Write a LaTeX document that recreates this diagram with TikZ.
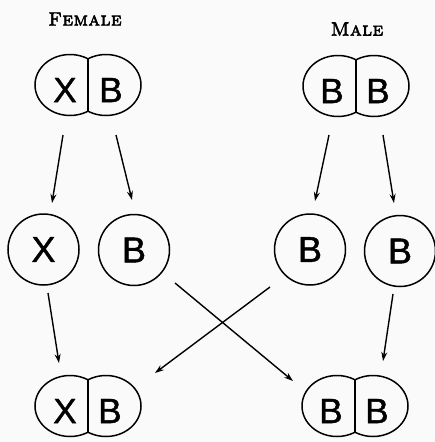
\documentclass[tikz,border=0pt]{standalone}
\usepackage{fontspec}
\newfontfamily\cellfont[FakeBold=1.2]{Liberation Sans}
\newfontfamily\titlefont[FakeBold=3, LetterSpace=3]{lmromancaps10-regular.otf}
\usetikzlibrary{arrows.meta,calc}
\tikzset{
  outline/.style={draw=black, line width=1.5pt},
  single/.style={outline, circle, minimum size=71pt, inner sep=0pt, font=\cellfont\fontsize{36}{36}\selectfont},
  letter/.style={inner sep=0pt, font=\cellfont\fontsize{35}{35}\selectfont},
  title/.style={inner sep=0pt, font=\titlefont\fontsize{19}{19}\selectfont},
  arr/.style={draw=black, line width=1.4pt, -{Stealth[length=9pt,width=6pt]}},
  dcell/.pic={
    \begin{scope}
      \clip (-60,-40) rectangle (0,40);
      \draw[outline] (-18,0) ellipse [x radius=35, y radius=30.5];
    \end{scope}
    \begin{scope}
      \clip (0,-40) rectangle (60,40);
      \draw[outline] (18,0) ellipse [x radius=35, y radius=30.5];
    \end{scope}
    \draw[outline, line width=1.1pt] (0,-26) -- (0,26);
  }
}
\begin{document}
\begin{tikzpicture}[x=1pt, y=-1pt]
  \useasboundingbox[fill=black!2] (0,0) rectangle (435,442);

  % titles
  \node[title] (fem) at (85,19) {Female};
  \node[title] (male) at (357,29) {Male};

  % parent cells
  \pic at (88,85) {dcell};
  \node[letter] (tlL) at (65,90) {X};
  \node[letter] (tlR) at (111,90) {B};
  \coordinate (TL) at (88,85);

  \pic at (356,86) {dcell};
  \node[letter] (trL) at (332,91) {B};
  \node[letter] (trR) at (378,91) {B};
  \coordinate (TR) at (356,86);

  % gametes
  \node[single] (mX) at (43.5,249.5) {X};
  \node[single] (mB) at (134,250) {B};
  \node[single] (mB1) at (310,249.5) {B};
  \node[single] (mB2) at (400,251) {B};

  % offspring
  \pic at (88,406) {dcell};
  \node[letter] (blL) at (65,411) {X};
  \node[letter] (blR) at (110,411) {B};
  \coordinate (BL) at (88,406);

  \pic at (355,406) {dcell};
  \node[letter] (brL) at (331,411) {B};
  \node[letter] (brR) at (377,411) {B};
  \coordinate (BR) at (355,406);

  % arrow end points
  \path (TL) ++(-25,50) coordinate (a1s);
  \path (TL) ++(28,50) coordinate (a2s);
  \path (TR) ++(-27,49) coordinate (a3s);
  \path (TR) ++(27,49) coordinate (a4s);
  \path (mX) ++(8.5,-46.5) coordinate (a1e);
  \path (mB) ++(-2,-50) coordinate (a2e);
  \path (mB1) ++(5,-48.5) coordinate (a3e);
  \path (mB2) ++(-6,-48) coordinate (a4e);

  \path (mX) ++(4.5,43.5) coordinate (a5s);
  \path (mB2) ++(-7,43) coordinate (a6s);
  \path (mB) ++(41,33) coordinate (a7s);
  \path (mB1) ++(-40,37.5) coordinate (a8s);
  \path (BL) ++(-29,-43) coordinate (a5e);
  \path (BR) ++(28,-45) coordinate (a6e);
  \path (BR) ++(-62,-25) coordinate (a7e);
  \path (BL) ++(67,-33) coordinate (a8e);

  \draw[arr] (a1s) -- (a1e);
  \draw[arr] (a2s) -- (a2e);
  \draw[arr] (a3s) -- (a3e);
  \draw[arr] (a4s) -- (a4e);
  \draw[arr] (a5s) -- (a5e);
  \draw[arr] (a6s) -- (a6e);
  \draw[arr] (a7s) -- (a7e);
  \draw[arr] (a8s) -- (a8e);
\end{tikzpicture}
\end{document}
